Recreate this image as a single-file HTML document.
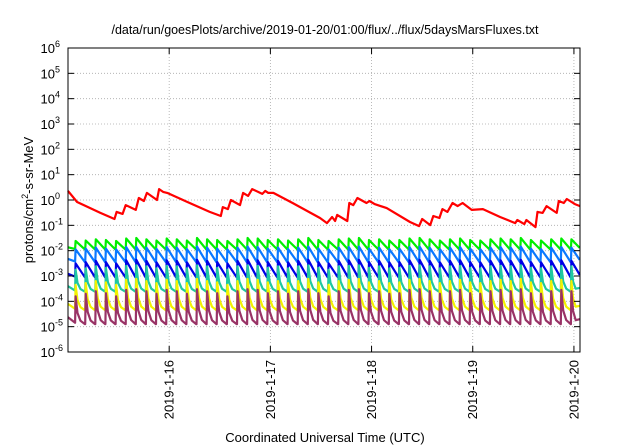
<!DOCTYPE html>
<html><head><meta charset="utf-8"><style>
html,body{margin:0;padding:0;background:#fff;}
svg{display:block;font-family:"Liberation Sans",Arial,sans-serif;}
</style></head><body>
<svg id="chart" width="640" height="448" viewBox="0 0 640 448" xmlns="http://www.w3.org/2000/svg">
<rect width="640" height="448" fill="#fff"/>
<text x="325" y="34" font-size="13" text-anchor="middle" textLength="427" lengthAdjust="spacingAndGlyphs">/data/run/goesPlots/archive/2019-01-20/01:00/flux/../flux/5daysMarsFluxes.txt</text>
<g id="grid"></g>
<g id="series"></g>
<rect x="68" y="48" width="512" height="304" fill="none" stroke="#000" stroke-width="1"/>
<g id="axes"></g>
<text transform="translate(33,200) rotate(-90)" font-size="13" text-anchor="middle">protons/cm<tspan dy="-5" font-size="9">2</tspan><tspan dy="5">-s-sr-MeV</tspan></text>
<text x="325" y="442" font-size="13" text-anchor="middle">Coordinated Universal Time (UTC)</text>
</svg>
<script>
const yTickExps=[-6,-5,-4,-3,-2,-1,0,1,2,3,4,5,6];
const xTickDays=[1,2,3,4,5];
const xTickLabels=["2019-1-16","2019-1-17","2019-1-18","2019-1-19","2019-1-20"];
const redDays=[0.00,0.09,0.32,0.46,0.48,0.54,0.57,0.67,0.70,0.75,0.78,0.88,0.90,0.94,0.98,1.18,1.40,1.51,1.53,1.58,1.61,1.70,1.73,1.78,1.82,1.92,1.95,1.98,2.03,2.22,2.49,2.56,2.61,2.64,2.66,2.76,2.78,2.82,2.86,2.95,2.98,3.03,3.15,3.38,3.47,3.50,3.58,3.61,3.67,3.70,3.75,3.80,3.85,3.90,3.99,4.10,4.27,4.42,4.44,4.51,4.53,4.62,4.64,4.69,4.73,4.83,4.85,4.90,4.93,5.01,5.06];
const redLogs=[0.36,-0.08,-0.51,-0.75,-0.47,-0.55,-0.20,-0.39,0.08,-0.04,0.28,0.00,0.43,0.32,0.28,-0.08,-0.47,-0.63,-0.28,-0.36,0.00,-0.20,0.28,0.16,0.43,0.24,0.36,0.28,0.28,-0.12,-0.71,-0.91,-0.67,-0.83,-0.59,-0.83,-0.12,-0.20,0.08,-0.12,-0.04,-0.16,-0.32,-0.87,-1.03,-0.75,-0.99,-0.63,-0.71,-0.36,-0.47,-0.12,-0.24,-0.12,-0.39,-0.36,-0.67,-0.91,-0.79,-0.95,-0.79,-1.07,-0.47,-0.51,-0.24,-0.51,-0.04,-0.12,0.04,-0.16,-0.24];
const cycleDays=[0.07,0.17,0.27,0.37,0.47,0.57,0.67,0.77,0.87,0.97,1.07,1.17,1.27,1.37,1.47,1.57,1.67,1.77,1.87,1.97,2.07,2.17,2.27,2.37,2.47,2.57,2.67,2.77,2.87,2.97,3.07,3.17,3.27,3.37,3.47,3.57,3.67,3.77,3.87,3.97,4.07,4.17,4.27,4.37,4.47,4.57,4.67,4.77,4.87,4.97];
const greenPeaks=[-1.62,-1.60,-1.55,-1.58,-1.62,-1.52,-1.50,-1.55,-1.60,-1.52,-1.55,-1.60,-1.50,-1.55,-1.58,-1.62,-1.55,-1.50,-1.52,-1.58,-1.55,-1.60,-1.55,-1.50,-1.58,-1.62,-1.55,-1.52,-1.50,-1.58,-1.55,-1.60,-1.58,-1.52,-1.50,-1.55,-1.60,-1.55,-1.52,-1.58,-1.60,-1.55,-1.52,-1.55,-1.50,-1.58,-1.60,-1.55,-1.52,-1.55];
const lightBluePeaks=[-1.95,-1.92,-1.88,-1.92,-1.95,-1.86,-1.85,-1.88,-1.93,-1.86,-1.88,-1.94,-1.84,-1.88,-1.92,-1.95,-1.88,-1.84,-1.86,-1.92,-1.88,-1.94,-1.88,-1.84,-1.92,-1.95,-1.88,-1.86,-1.84,-1.92,-1.88,-1.94,-1.92,-1.86,-1.84,-1.88,-1.94,-1.88,-1.86,-1.92,-1.94,-1.88,-1.86,-1.88,-1.84,-1.92,-1.94,-1.88,-1.86,-1.88];
const darkBluePeaks=[-2.50,-2.45,-2.40,-2.45,-2.50,-2.38,-2.36,-2.40,-2.46,-2.38,-2.40,-2.46,-2.36,-2.40,-2.45,-2.50,-2.40,-2.36,-2.38,-2.45,-2.40,-2.46,-2.40,-2.36,-2.45,-2.50,-2.40,-2.38,-2.36,-2.45,-2.40,-2.46,-2.45,-2.38,-2.36,-2.40,-2.46,-2.40,-2.38,-2.45,-2.46,-2.40,-2.38,-2.40,-2.36,-2.45,-2.46,-2.40,-2.38,-2.40];
const tealPeaks=[-2.75,-2.70,-2.62,-2.68,-2.75,-2.60,-2.58,-2.62,-2.70,-2.60,-2.62,-2.70,-2.58,-2.62,-2.68,-2.75,-2.62,-2.58,-2.60,-2.68,-2.62,-2.70,-2.62,-2.58,-2.68,-2.75,-2.62,-2.60,-2.58,-2.68,-2.62,-2.70,-2.68,-2.60,-2.58,-2.62,-2.70,-2.62,-2.60,-2.68,-2.70,-2.62,-2.60,-2.62,-2.58,-2.68,-2.70,-2.62,-2.60,-2.62];
const yellowPeaks=[-3.35,-3.28,-3.20,-3.25,-3.35,-3.15,-3.12,-3.20,-3.28,-3.15,-3.20,-3.28,-3.12,-3.20,-3.25,-3.35,-3.20,-3.12,-3.15,-3.25,-3.20,-3.28,-3.20,-3.12,-3.25,-3.35,-3.20,-3.15,-3.12,-3.25,-3.20,-3.28,-3.25,-3.15,-3.12,-3.20,-3.28,-3.20,-3.15,-3.25,-3.28,-3.20,-3.15,-3.20,-3.12,-3.25,-3.28,-3.20,-3.15,-3.20];
const purplePeaks=[-3.80,-3.70,-3.60,-3.68,-3.80,-3.55,-3.52,-3.60,-3.70,-3.55,-3.60,-3.70,-3.52,-3.60,-3.68,-3.80,-3.60,-3.52,-3.55,-3.68,-3.60,-3.70,-3.60,-3.52,-3.68,-3.80,-3.60,-3.55,-3.52,-3.68,-3.60,-3.70,-3.68,-3.55,-3.52,-3.60,-3.70,-3.60,-3.55,-3.68,-3.70,-3.60,-3.55,-3.60,-3.52,-3.68,-3.70,-3.60,-3.55,-3.60];
const troughLevels=[-1.95,-2.45,-3.05,-3.62,-4.35,-4.90];

const NS="http://www.w3.org/2000/svg";
const X0=68,X1=580,Y0=48,Y1=352,DMAX=5.06,EMIN=-6,EMAX=6;
function xs(d){return X0+(d/DMAX)*(X1-X0);}
function ys(e){return Y1-(e-EMIN)/(EMAX-EMIN)*(Y1-Y0);}
function mk(tag,attrs,parent){const el=document.createElementNS(NS,tag);for(const k in attrs)el.setAttribute(k,attrs[k]);parent.appendChild(el);return el;}
const grid=document.getElementById('grid'),axes=document.getElementById('axes'),ser=document.getElementById('series');
yTickExps.forEach(e=>{
  const y=ys(e);
  if(e>EMIN&&e<EMAX){const g=mk('line',{x1:X0,x2:X1,y1:y,y2:y,stroke:'#aaa','stroke-width':0.8,'stroke-dasharray':'1,2'},grid);
  
  }
  const t1=mk('line',{x1:X0,x2:X0+6,y1:y,y2:y,stroke:'#000'},axes);
  
  
  const t2=mk('line',{x1:X1-6,x2:X1,y1:y,y2:y,stroke:'#000'},axes);
  
  
  const tx=mk('text',{x:X0-13,y:y+5,'font-size':13,'text-anchor':'end'},axes);
  
  
  tx.textContent='10';
  const sp=mk('tspan',{x:X0-13,dy:-6,'font-size':9,'text-anchor':'start'},tx);
  sp.textContent=String(e);
});
xTickDays.forEach((d,i)=>{
  const x=xs(d);
  const g=mk('line',{x1:x,x2:x,y1:Y0,y2:Y1,stroke:'#aaa','stroke-width':0.8,'stroke-dasharray':'1,2'},grid);
  
  
  const t1=mk('line',{x1:x,x2:x,y1:Y1-6,y2:Y1,stroke:'#000'},axes);
  
  
  const t2=mk('line',{x1:x,x2:x,y1:Y0,y2:Y0+6,stroke:'#000'},axes);
  
  
  const tx=mk('text',{transform:`translate(${x+4.5},360) rotate(-90)`,'font-size':13,'text-anchor':'end'},axes);
  
  
  tx.textContent=xTickLabels[i];
});
function line(pts,color,name){
  const p=mk('polyline',{points:pts.map(q=>q[0].toFixed(1)+','+q[1].toFixed(1)).join(' '),fill:'none',stroke:color,'stroke-width':2.2,'stroke-linejoin':'round'},ser);
  
  
}
function cyc(peaks,trough,curved){
  const pts=[];
  const first=peaks[0];
  pts.push([xs(0),ys(trough+(first-trough)*0.25)]);
  for(let i=0;i<cycleDays.length;i++){
    const t=cycleDays[i],pk=peaks[i];
    const nt=i+1<cycleDays.length?cycleDays[i+1]:DMAX;
    pts.push([xs(t),ys(i===0?trough+(first-trough)*0.05:trough)]);
    pts.push([xs(t+0.005),ys(pk)]);
    const end=Math.min(nt-0.003,DMAX);
    const endV=nt>=DMAX?trough+(pk-trough)*0.15:trough;
    if(curved){
      const span=end-t;
      pts.push([xs(t+span*0.25),ys(trough+(pk-trough)*0.4)]);
      pts.push([xs(t+span*0.55),ys(trough+(pk-trough)*0.12)]);
    }
    pts.push([xs(end),ys(endV)]);
  }
  return pts;
}
const cols=['#00ee00','#0a78ff','#0000e6','#1ec8a0','#f2f200','#993366'];
const names=['series-green','series-light-blue','series-dark-blue','series-teal','series-yellow','series-purple'];
const peakSets=[greenPeaks,lightBluePeaks,darkBluePeaks,tealPeaks,yellowPeaks,purplePeaks];
[0,1,2,3,4,5].forEach(k=>line(cyc(peakSets[k],troughLevels[k],k>=3),cols[k],names[k]));
line(redDays.map((d,i)=>[xs(d),ys(redLogs[i])]),'#ff0000','series-red');
</script>
</body></html>
